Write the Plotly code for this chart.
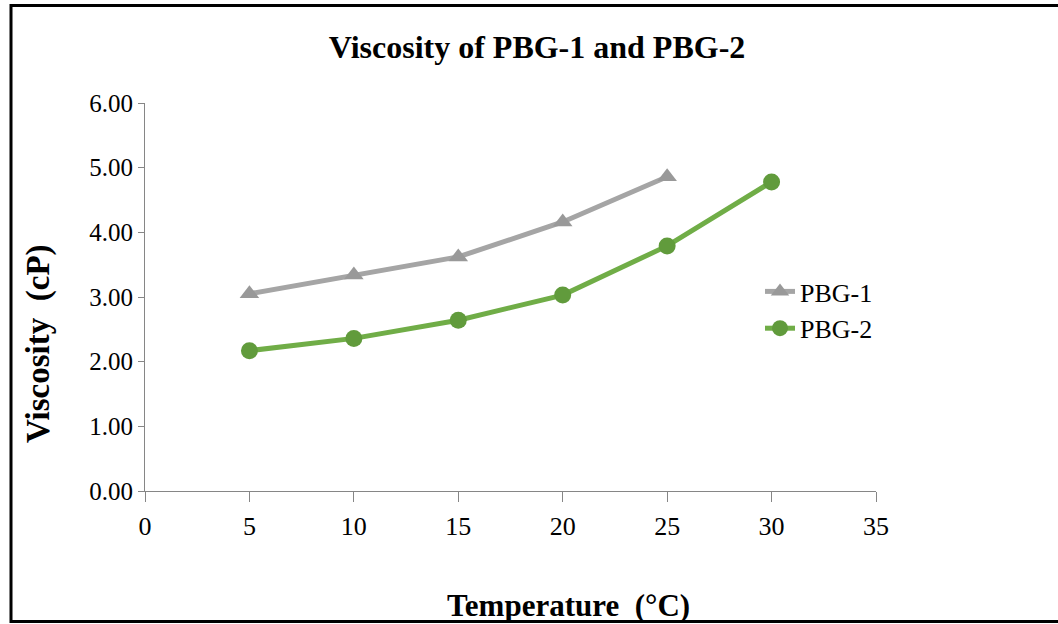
import plotly.graph_objects as go

temps_1 = [5, 10, 15, 20, 25]
pbg1 = [3.05, 3.34, 3.62, 4.16, 4.86]
temps_2 = [5, 10, 15, 20, 25, 30]
pbg2 = [2.17, 2.36, 2.64, 3.03, 3.79, 4.78]

x_ticks = [0, 5, 10, 15, 20, 25, 30, 35]
y_ticks = [0, 1, 2, 3, 4, 5, 6]
y_tick_text = ["0.00", "1.00", "2.00", "3.00", "4.00", "5.00", "6.00"]

W, H = 1058, 624
L, R, T, B = 145, 182, 103, 133
pw, ph = W - L - R, H - T - B

def px_x(px):
    return (px - L) / pw

def px_y(py):
    return (H - B - py) / ph

FONT = "Liberation Serif"

fig = go.Figure()
fig.add_trace(go.Scatter(
    x=temps_1, y=pbg1, name="PBG-1", mode="lines+markers",
    line=dict(color="#A5A5A5", width=5),
    marker=dict(symbol="triangle-up", size=17, color="#999999"),
))
fig.add_trace(go.Scatter(
    x=temps_2, y=pbg2, name="PBG-2", mode="lines+markers",
    line=dict(color="#70AD47", width=5),
    marker=dict(symbol="circle", size=17, color="#619B3C"),
))

fig.update_layout(
    width=W, height=H,
    margin=dict(l=L, r=R, t=T, b=B),
    paper_bgcolor="white", plot_bgcolor="white",
    font=dict(family=FONT, color="black"),
    title=dict(text="<b>Viscosity of PBG-1 and PBG-2</b>", x=537 / W, xanchor="center",
               y=1 - 47 / H, yanchor="middle", font=dict(size=32, family=FONT)),
    xaxis=dict(range=[0, 35], tickvals=x_ticks, showline=True, linecolor="#868686", linewidth=1,
               ticks="outside", ticklen=10, tickcolor="#868686", showgrid=False, zeroline=False,
               tickfont=dict(size=26, family=FONT), ticklabelstandoff=2),
    yaxis=dict(range=[0, 6], tickvals=y_ticks, ticktext=y_tick_text, showline=True, linecolor="#868686",
               linewidth=1, ticks="outside", ticklen=6, tickcolor="#868686", showgrid=False, zeroline=False,
               tickfont=dict(size=25, family=FONT)),
    legend=dict(x=px_x(760), y=px_y(268), xanchor="left", yanchor="top",
                font=dict(size=26, family=FONT), bgcolor="rgba(0,0,0,0)", tracegroupgap=0),
    showlegend=True,
)

fig.add_annotation(text="<b>Temperature  (°C)</b>", xref="paper", yref="paper",
                   x=px_x(568), y=px_y(605), xanchor="center", yanchor="middle",
                   showarrow=False, font=dict(size=31, family=FONT))
fig.add_annotation(text="<b>Viscosity  (cP)</b>", xref="paper", yref="paper",
                   x=px_x(38), y=px_y(343), xanchor="center", yanchor="middle", textangle=-90,
                   showarrow=False, font=dict(size=33, family=FONT))

fig.add_shape(type="rect", xref="paper", yref="paper",
              x0=px_x(11), x1=px_x(1062), y0=px_y(621.5), y1=px_y(5.5),
              line=dict(color="black", width=3), layer="above")

fig.write_html("out.html")
